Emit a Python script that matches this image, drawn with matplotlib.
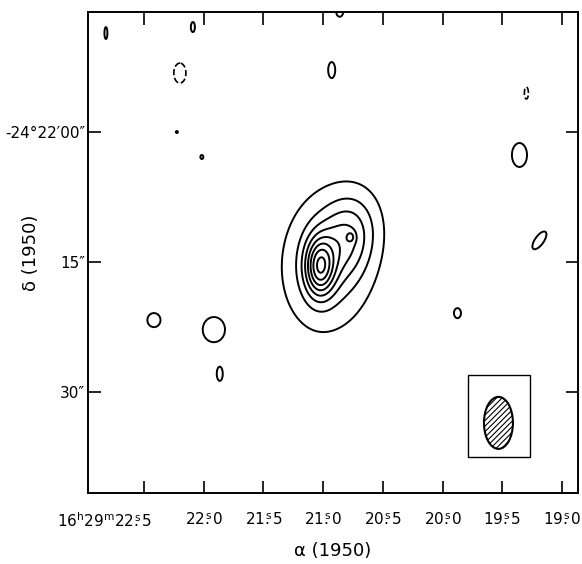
import numpy as np
import matplotlib
matplotlib.use("Agg")
import matplotlib.pyplot as plt
import matplotlib.transforms as mtransforms
from matplotlib.patches import Ellipse, Rectangle

plt.rcParams['font.family'] = ['DejaVu Sans']
plt.rcParams['mathtext.fontset'] = 'dejavusans'
plt.rcParams['hatch.linewidth'] = 0.8

# ---------------- data ----------------
# RA in seconds of time (16h29m + s), Dec as arcsec south of -24d22'00"
ra_limits = [22.968, 18.866]
dec_limits = [41.65, -13.85]

ra_ticks = [22.5, 22.0, 21.5, 21.0, 20.5, 20.0, 19.5, 19.0]
ra_ticklabels = [r'$\mathrm{16^{h}29^{m}22}\overset{\mathrm{s}}{.}\mathrm{5}$',
                 r'$\mathrm{22}\overset{\mathrm{s}}{.}\mathrm{0}$',
                 r'$\mathrm{21}\overset{\mathrm{s}}{.}\mathrm{5}$',
                 r'$\mathrm{21}\overset{\mathrm{s}}{.}\mathrm{0}$',
                 r'$\mathrm{20}\overset{\mathrm{s}}{.}\mathrm{5}$',
                 r'$\mathrm{20}\overset{\mathrm{s}}{.}\mathrm{0}$',
                 r'$\mathrm{19}\overset{\mathrm{s}}{.}\mathrm{5}$',
                 r'$\mathrm{19}\overset{\mathrm{s}}{.}\mathrm{0}$']
dec_ticks = [0, 15, 30]
dec_ticklabels = ['-24°22′00″', '15″', '30″']

# source model components: RA (s), Dec offset ("), amplitude, sigma_a ("), sigma_b ("), angle (deg)
comp_ra  = [21.028, 20.803, 20.962, 20.769,
            22.818, 22.090, 22.224, 22.015, 20.928, 20.861,
            22.199, 19.298,
            19.356, 19.189, 19.875, 22.416, 21.915, 21.865]
comp_dec = [15.57, 12.23, 15.0, 12.11,
            -11.42, -12.11, 0.0, 2.88, -7.15, -13.9,
            -6.8, -4.5,
            2.65, 12.5, 20.9, 21.7, 22.8, 27.9]
comp_amp = [5.2, 2.6, 2.4, 1.2,
            1.65, 1.65, 1.65, 1.65, 1.65, 1.65,
            -1.65, -1.65,
            1.65, 1.65, 1.65, 1.65, 1.65, 1.65]
comp_sa  = [1.15, 2.2, 3.9, 0.35,
            0.17, 0.23, 0.12, 0.17, 0.40, 0.40,
            0.69, 0.23,
            0.86, 0.50, 0.40, 0.75, 1.26, 0.34]
comp_sb  = [2.3, 3.4, 6.0, 0.45,
            0.69, 0.58, 0.12, 0.23, 0.92, 0.60,
            1.15, 0.69,
            1.38, 1.20, 0.58, 0.81, 1.44, 0.81]
comp_ang = [0, 15, 5, 0,
            0, 0, 0, 0, 0, 0,
            0, 0,
            0, 35, 0, 0, 0, 0]

pos_levels = [1, 2, 3, 4, 5, 6, 7, 8]
neg_levels = [-1]

# restoring beam
beam_ra, beam_dec = 19.532, 33.56
beam_w_s, beam_h_as = 0.2425, 6.0
box_ra = [19.791, 19.264]
box_dec = [28.03, 37.49]

# ---------------- model map ----------------
cosd = 15.0 * np.cos(np.deg2rad(24.37))
ra = np.linspace(min(ra_limits), max(ra_limits), 900)
dec = np.linspace(min(dec_limits), max(dec_limits), 900)
RA, DEC = np.meshgrid(ra, dec)
Z = np.zeros_like(RA)
for r0, d0, a, sa, sb, ang in zip(comp_ra, comp_dec, comp_amp, comp_sa, comp_sb, comp_ang):
    X = -(RA - r0) * cosd
    Y = DEC - d0
    t = np.deg2rad(ang)
    u = X * np.cos(t) + Y * np.sin(t)
    v = -X * np.sin(t) + Y * np.cos(t)
    Z += a * np.exp(-0.5 * ((u / sa) ** 2 + (v / sb) ** 2))

# ---------------- figure ----------------
fig = plt.figure(figsize=(5.82, 5.64), dpi=100)
ax = fig.add_axes([88/582, 1-493/564, 490/582, 481/564])

ax.contour(RA, DEC, Z, levels=pos_levels, colors='black', linewidths=1.4)
ax.contour(RA, DEC, Z, levels=neg_levels, colors='black', linewidths=1.2, linestyles='dashed')

ax.add_patch(Rectangle((box_ra[0], box_dec[0]), box_ra[1]-box_ra[0], box_dec[1]-box_dec[0],
                       fill=False, edgecolor='black', linewidth=1.0))
ax.add_patch(Ellipse((beam_ra, beam_dec), beam_w_s, beam_h_as, facecolor='white',
                     edgecolor='black', linewidth=1.5, hatch='//////'))

ax.set_xlim(ra_limits)
ax.set_ylim(dec_limits)
ax.set_xticks(ra_ticks)
ax.set_xticklabels(ra_ticklabels)
ax.set_yticks(dec_ticks)
ax.set_yticklabels(dec_ticklabels)
ax.tick_params(direction='in', length=9, width=1.2, top=True, right=True,
               labelsize=11, colors='black')
ax.tick_params(axis='x', pad=13)
ax.tick_params(axis='y', pad=2)
for s in ax.spines.values():
    s.set_linewidth(1.4)

first = ax.get_xticklabels()[0]
first.set_horizontalalignment('right')
first.set_transform(first.get_transform() + mtransforms.ScaledTranslation(8/100, 0, fig.dpi_scale_trans))

ax.set_xlabel('α (1950)', fontsize=13, labelpad=9)
ax.set_ylabel('δ (1950)', fontsize=13)
ax.yaxis.set_label_coords((40-88)/490, 0.5)

fig.savefig('out.png', dpi=100)
